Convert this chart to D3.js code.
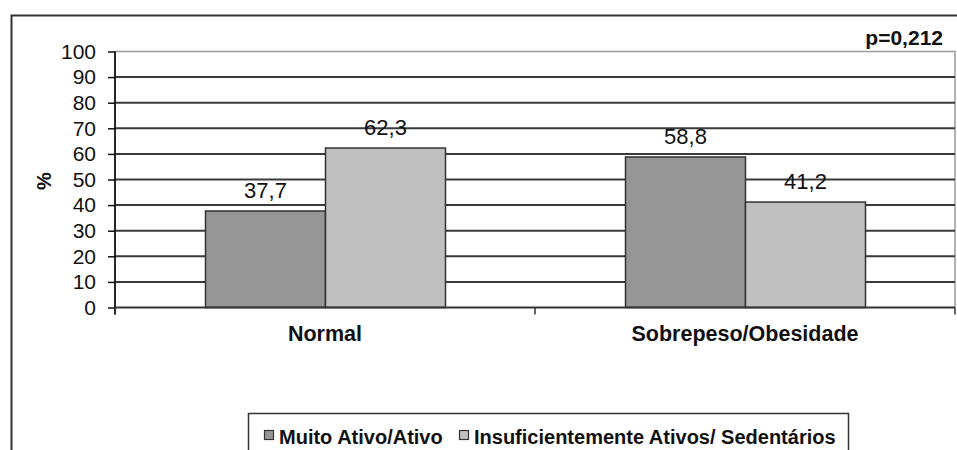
<!DOCTYPE html>
<html>
<head>
<meta charset="utf-8">
<script src="https://cdn.jsdelivr.net/npm/d3@7"></script>
<style>
html,body{margin:0;padding:0;background:#fff;}
svg{display:block;font-family:"Liberation Sans",Arial,sans-serif;}
</style>
</head>
<body>
<svg id="chart" width="957" height="450"></svg>
<script>
const categories = ["Normal", "Sobrepeso/Obesidade"];
const seriesNames = ["Muito Ativo/Ativo", "Insuficientemente Ativos/ Sedentários"];
const muitoAtivo = [37.7, 58.8];
const insuficiente = [62.3, 41.2];
const yTicks = [0, 10, 20, 30, 40, 50, 60, 70, 80, 90, 100];
const seriesColors = ["#969696", "#c0c0c0"];
const pValue = "p=0,212";
const yLabel = "%";

const svg = d3.select("#chart");
const plotL = 115, plotR = 955, plotT = 51.5, plotB = 307.5;

const x0 = d3.scaleBand().domain(categories).range([plotL, plotR]).padding(0);
const x1 = d3.scaleBand().domain(seriesNames).range([90.5, 330.5]);
const y = d3.scaleLinear().domain([0, 100]).range([plotB, plotT]);
const color = d3.scaleOrdinal().domain(seriesNames).range(seriesColors);
const fmt = v => d3.format(".1f")(v).replace(".", ",");

// outer frame
svg.append("path").attr("d", `M11.5,451 L11.5,15.5 L958,15.5`)
  .attr("fill", "none").attr("stroke", "#333").attr("stroke-width", 2);

// plot border (top and right)
svg.append("path").attr("d", `M${plotL},${plotT} L${plotR},${plotT} L${plotR},${plotB}`)
  .attr("fill", "none").attr("stroke", "#9a9a9a").attr("stroke-width", 1.5);

// gridlines
svg.append("g").selectAll("line").data(yTicks.filter(t => t > 0 && t < 100)).join("line")
  .attr("x1", plotL).attr("x2", plotR)
  .attr("y1", d => y(d)).attr("y2", d => y(d))
  .attr("stroke", "#3a3a3a").attr("stroke-width", 2);

// bars
const data = categories.map((c, i) => ({cat: c, vals: [
  {s: seriesNames[0], v: muitoAtivo[i]},
  {s: seriesNames[1], v: insuficiente[i]}
]}));

const groups = svg.append("g").selectAll("g").data(data).join("g")
  .attr("transform", d => `translate(${x0(d.cat)},0)`);

groups.selectAll("rect").data(d => d.vals).join("rect")
  .attr("x", d => x1(d.s))
  .attr("y", d => y(d.v))
  .attr("width", x1.bandwidth())
  .attr("height", d => y(0) - y(d.v))
  .attr("fill", d => color(d.s))
  .attr("stroke", "#333").attr("stroke-width", 1.5);

groups.selectAll("text").data(d => d.vals).join("text")
  .attr("x", d => x1(d.s) + x1.bandwidth() / 2)
  .attr("y", d => y(d.v) - 13)
  .attr("text-anchor", "middle")
  .attr("font-size", 22)
  .attr("fill", "#111")
  .text(d => fmt(d.v));

// y axis
const yAxis = d3.axisLeft(y).tickValues(yTicks).tickSize(7).tickPadding(12);
const gy = svg.append("g").attr("transform", `translate(${plotL},0)`).call(yAxis);
gy.select(".domain").attr("d", `M0,${plotT}V${plotB + 7}`).attr("stroke", "#111").attr("stroke-width", 1.8);
gy.selectAll(".tick line").attr("stroke", "#111").attr("stroke-width", 1.5);
gy.selectAll(".tick text").attr("font-size", 21).attr("fill", "#111")
  .attr("font-family", "'Liberation Sans',Arial,sans-serif");

// x axis
svg.append("line").attr("x1", plotL).attr("x2", plotR).attr("y1", plotB).attr("y2", plotB)
  .attr("stroke", "#333").attr("stroke-width", 2);
const xTickPos = [plotL, ...categories.slice(1).map(c => x0(c)), plotR];
svg.append("g").selectAll("line").data(xTickPos).join("line")
  .attr("x1", d => d).attr("x2", d => d).attr("y1", plotB).attr("y2", plotB + 7)
  .attr("stroke", "#333").attr("stroke-width", 1.5);
svg.append("g").selectAll("text").data(categories).join("text")
  .attr("x", d => x0(d) + x0.bandwidth() / 2)
  .attr("y", 341)
  .attr("text-anchor", "middle")
  .attr("font-size", 21.5).attr("font-weight", "bold").attr("fill", "#111")
  .text(d => d);

// y label
svg.append("text").attr("transform", "translate(51,181) rotate(-90)")
  .attr("text-anchor", "middle").attr("font-size", 20).attr("font-weight", "bold")
  .attr("fill", "#111").text(yLabel);

// p value
svg.append("text").attr("x", 943).attr("y", 45).attr("text-anchor", "end")
  .attr("font-size", 21).attr("font-weight", "bold").attr("fill", "#111").text(pValue);

// legend
const lg = svg.append("g");
lg.append("rect").attr("x", 248.5).attr("y", 413.5).attr("width", 600).attr("height", 50)
  .attr("fill", "#fff").attr("stroke", "#333").attr("stroke-width", 1.5);
const legendX = [264, 459];
const items = lg.selectAll("g").data(seriesNames).join("g")
  .attr("transform", (d, i) => `translate(${legendX[i]},0)`);
items.append("rect").attr("x", 0.5).attr("y", 430.5).attr("width", 9).attr("height", 9)
  .attr("fill", d => color(d)).attr("stroke", "#333").attr("stroke-width", 1.2);
items.append("text").attr("x", 15).attr("y", 444)
  .attr("font-size", 20).attr("font-weight", "bold").attr("fill", "#111")
  .text(d => d);
</script>
</body>
</html>
